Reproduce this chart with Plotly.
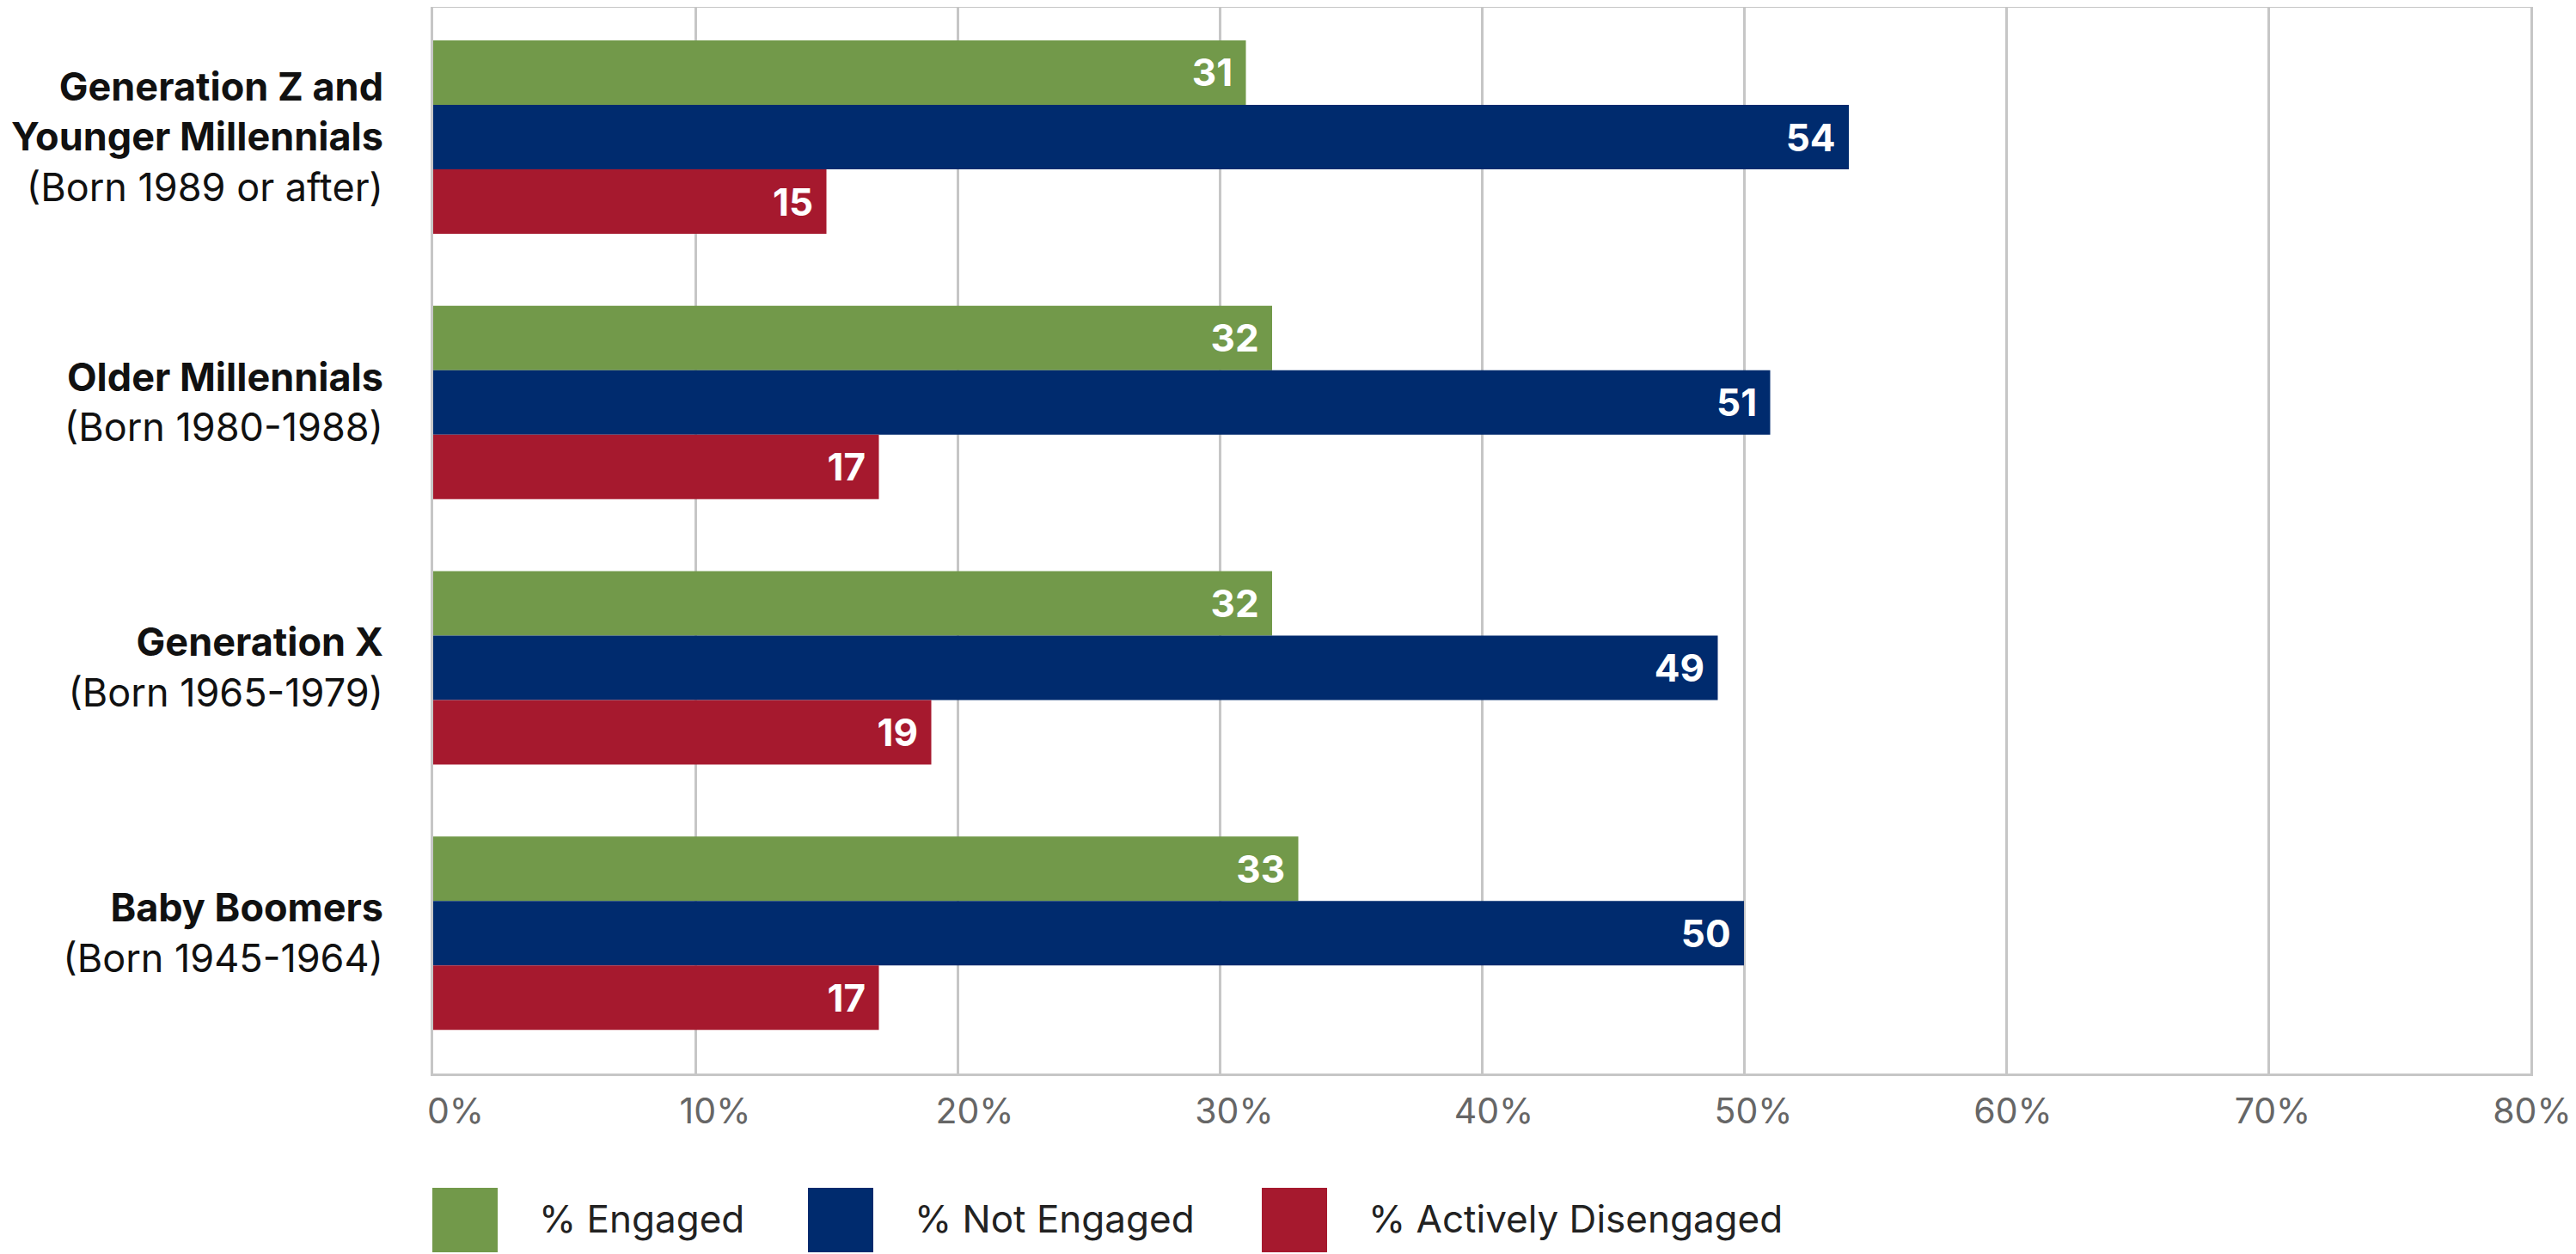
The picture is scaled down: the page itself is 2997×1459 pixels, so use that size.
import plotly.graph_objects as go

categories = [
    "<b>Generation Z and<br>Younger Millennials</b><br>(Born 1989 or after)",
    "<b>Older Millennials</b><br>(Born 1980-1988)",
    "<b>Generation X</b><br>(Born 1965-1979)",
    "<b>Baby Boomers</b><br>(Born 1945-1964)",
]
series_names = ["% Engaged", "% Not Engaged", "% Actively Disengaged"]
engaged = [31, 32, 32, 33]
not_engaged = [54, 51, 49, 50]
actively_disengaged = [15, 17, 19, 17]
colors = ["#72994A", "#002B6E", "#A6192E"]
x_ticks = [0, 10, 20, 30, 40, 50, 60, 70, 80]

FONT = "Inter"
# the page body adds an 8px margin, so the figure is sized/offset to fit the window
W, H = 2989, 1451
L, R, T, B = 496, 20, 1, 210
pw, ph = W - L - R, H - T - B
plot_right = 2936           # pixel where the 80% gridline sits
main_dom = (plot_right - L) / pw
lab_first, lab_span = 26, 2416   # tick labels spread a little differently from gridlines
x2_lo = -lab_first * 80 / lab_span
x2_hi = x2_lo + 80 * pw / lab_span

fig = go.Figure()
for name, vals, col in zip(series_names, [engaged, not_engaged, actively_disengaged], colors):
    fig.add_trace(go.Bar(
        y=categories, x=vals, name=name, orientation="h",
        marker=dict(color=col, line=dict(width=0)),
        text=[f"<b>{v}</b>\u00a0" for v in vals],
        textposition="inside", insidetextanchor="end",
        textfont=dict(family=FONT, size=44, color="white"),
        showlegend=False, cliponaxis=False,
    ))

# invisible helper trace carrying the tick-label axis
fig.add_trace(go.Scatter(
    x=x_ticks, y=[categories[0]] * len(x_ticks), xaxis="x2", yaxis="y",
    mode="markers", marker=dict(opacity=0, size=1), hoverinfo="skip", showlegend=False,
))

fig.update_layout(
    width=W, height=H,
    margin=dict(l=L, r=R, t=T, b=B, autoexpand=False),
    barmode="group", bargap=0.271, bargroupgap=0,
    plot_bgcolor="rgba(0,0,0,0)", paper_bgcolor="white",
    font=dict(family=FONT, color="#111111"),
    xaxis=dict(
        domain=[0, main_dom], range=[0, 80], tickvals=x_ticks, anchor="y",
        showgrid=True, gridcolor="#C6C6C6", gridwidth=3,
        showline=True, linecolor="#C6C6C6", linewidth=3, mirror=True,
        zeroline=False, ticks="", showticklabels=False,
    ),
    xaxis2=dict(
        domain=[0, 1], anchor="y", range=[x2_lo, x2_hi],
        tickvals=x_ticks, ticktext=[f"{v}%" for v in x_ticks],
        showgrid=False, showline=False, zeroline=False, ticks="",
        ticklabelstandoff=16,
        tickfont=dict(family=FONT, size=41, color="#666666"),
    ),
    yaxis=dict(
        range=[3.529, -0.4875], showgrid=False, anchor="x",
        showline=True, linecolor="#C6C6C6", linewidth=3, mirror=True,
        ticks="", ticklabelstandoff=46,
        tickfont=dict(family=FONT, size=45, color="#111111"),
    ),
)

# legend drawn manually
legend_x = [495, 932, 1460]
for name, col, x0 in zip(series_names, colors, legend_x):
    fig.add_shape(type="rect", xref="paper", yref="paper",
                  x0=(x0 - L) / pw, x1=(x0 + 76 - L) / pw,
                  y0=(H - B - 1449) / ph, y1=(H - B - 1374) / ph,
                  fillcolor=col, line=dict(width=0))
    fig.add_annotation(xref="paper", yref="paper",
                       x=(x0 + 122 - L) / pw, y=(H - B - 1410) / ph,
                       text=name, showarrow=False, xanchor="left", yanchor="middle",
                       font=dict(family=FONT, size=44, color="#222222"))

fig.write_html("out.html")
